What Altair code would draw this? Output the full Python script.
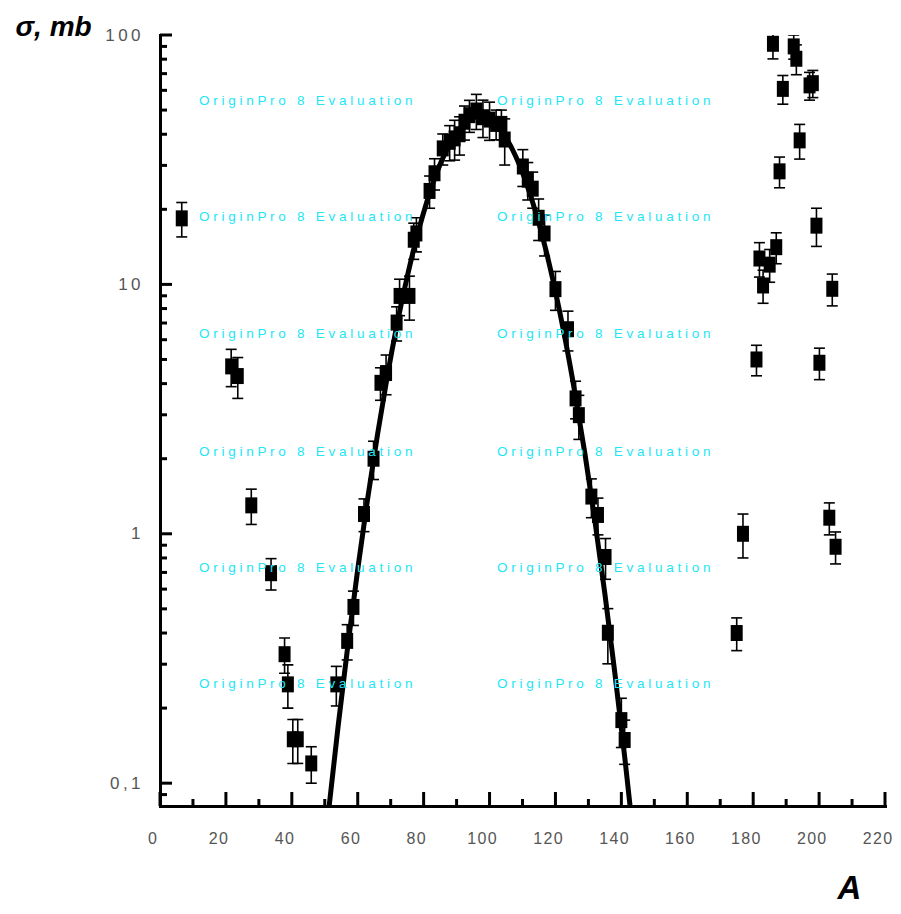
import altair as alt
import pandas as pd

# ---- data ----
# measured cross sections (A, sigma [mb], error [mb])
A_vals = [6.6, 21.6, 23.6, 27.7, 33.7, 37.8, 38.8, 40.3, 41.8, 45.9,
          53.5, 56.8, 58.7, 61.9, 64.8, 66.9, 68.6, 71.8, 72.7, 75.7,
          77.0, 77.8, 81.8, 83.3, 85.8, 87.9, 89.4, 90.9, 92.4, 93.9,
          96.0, 98.0, 100.0, 102.0, 103.6, 104.6, 110.1, 111.6, 113.1, 114.9,
          116.7, 120.0, 123.8, 126.1, 127.1, 130.9, 132.9, 135.2, 135.9, 140.0,
          141.0,
          175.0, 176.9, 181.0, 181.9, 183.0, 185.0, 186.0, 187.0, 188.0, 189.0,
          192.3, 193.1, 194.1, 197.1, 198.1, 199.2, 200.1, 203.1, 204.0, 205.0]
sigma_vals = [18.4, 4.69, 4.29, 1.30, 0.695, 0.329, 0.249, 0.150, 0.150, 0.120,
              0.249, 0.372, 0.509, 1.20, 2.00, 4.03, 4.41, 7.03, 8.99, 8.99,
              15.1, 16.0, 23.7, 27.9, 35.1, 37.3, 38.5, 40.0, 44.9, 47.7,
              49.8, 46.8, 45.8, 44.0, 44.0, 38.1, 29.7, 26.3, 24.2, 18.5,
              16.0, 9.57, 6.61, 3.49, 2.99, 1.41, 1.19, 0.807, 0.401, 0.179,
              0.149,
              0.40, 1.0, 5.0, 12.7, 9.9, 12.0, 92.2, 14.1, 28.4, 60.8,
              90.0, 80.3, 37.8, 62.8, 64.1, 17.2, 4.85, 1.16, 9.6, 0.887]
err_vals = [2.9, 0.8, 0.8, 0.21, 0.1, 0.053, 0.049, 0.03, 0.03, 0.02,
            0.045, 0.06, 0.08, 0.18, 0.35, 0.6, 0.8, 1.1, 1.5, 1.8,
            2.5, 2.5, 3.5, 4.0, 5.0, 6.0, 7.0, 7.0, 7.0, 7.0,
            8.0, 8.0, 8.0, 6.0, 6.0, 8.0, 5.0, 4.5, 4.0, 3.5,
            3.0, 1.7, 1.2, 0.6, 0.6, 0.25, 0.2, 0.15, 0.1, 0.04,
            0.03,
            0.06, 0.2, 0.7, 2.0, 1.5, 1.8, 12.0, 2.0, 4.0, 8.0,
            10.0, 11.0, 6.0, 8.0, 8.0, 3.0, 0.7, 0.17, 1.4, 0.13]

# fitted curve
fit_A = [51, 54, 57, 60, 63, 66, 69, 72, 75, 78, 81, 84, 87, 90, 93, 96,
         99, 102, 105, 108, 111, 114, 117, 120, 123, 126, 129, 132, 135, 138,
         141, 144]
fit_sigma = [0.074, 0.167, 0.356, 0.72, 1.38, 2.50, 4.30, 6.98, 10.7, 15.6,
             21.5, 28.1, 34.6, 40.5, 44.8, 46.9, 46.4, 43.5, 38.7, 32.5,
             25.8, 19.5, 13.9, 9.36, 5.98, 3.61, 2.07, 1.12, 0.574, 0.278,
             0.128, 0.0555]

x_major = [0, 20, 40, 60, 80, 100, 120, 140, 160, 180, 200, 220]
x_minor = [10, 30, 50, 70, 90, 110, 130, 150, 170, 190, 210]
y_major = [0.1, 1, 10, 100]
y_minor = [0.09, 0.2, 0.3, 0.4, 0.5, 0.6, 0.7, 0.8, 0.9,
           2, 3, 4, 5, 6, 7, 8, 9,
           20, 30, 40, 50, 60, 70, 80, 90]

NB = "\u00a0"
watermark = " ".join("OriginPro") + NB * 3 + "8" + NB * 3 + " ".join("Evaluation")
x_title = "A"
y_title = "σ, mb"

# ---- layout ----
W, H = 725, 771
wm_cols = [39, 337]
wm_rows = [66, 182, 299, 417, 533, 649]

xs = alt.Scale(domain=[0, 220], nice=False, zero=False)
ys = alt.Scale(type="log", domain=[0.081, 100], nice=False)

pts = pd.DataFrame({"A": A_vals, "sigma": sigma_vals, "err": err_vals})
pts["lo"] = pts["sigma"] - pts["err"]
pts["hi"] = pts["sigma"] + pts["err"]
fit = pd.DataFrame({"A": fit_A, "sigma": fit_sigma})

y_label_expr = ("join(split(replace(toString(datum.value), '.', ','), ''), '"
                "\u2009')")
x_label_expr = "join(split(toString(datum.value), ''), '\u200a')"
tick_font = "Liberation Sans"

x_axis = alt.Axis(values=x_major, labelExpr=x_label_expr, ticks=False, grid=False,
                  labelFont=tick_font, labelFontSize=16, labelColor="#555",
                  labelPadding=32, labelBaseline="middle", labelOffset=-8,
                  labelFlush=False,
                  title=x_title, titleX=677, titleY=92, titleAlign="left",
                  titleBaseline="alphabetic", titleFont="Liberation Sans",
                  titleFontSize=33, titleFontWeight="bold", titleFontStyle="italic")
y_axis = alt.Axis(values=y_major, labelExpr=y_label_expr, ticks=False, grid=False,
                  labelFont=tick_font, labelFontSize=17, labelColor="#555",
                  labelPadding=20, labelBaseline="middle", labelAlign="right",
                  title=y_title, titleAngle=0, titleX=-145, titleY=0,
                  titleAlign="left", titleBaseline="alphabetic",
                  titleFont="Liberation Sans", titleFontSize=28,
                  titleFontWeight="bold", titleFontStyle="italic")

square = "M-0.75,-1L0.75,-1L0.75,1L-0.75,1Z"


def X(field):
    return alt.X(field, scale=xs, axis=x_axis)


def Y(field):
    return alt.Y(field, scale=ys, axis=y_axis)


points = alt.Chart(pts).mark_point(shape=square, size=256, filled=True,
                                   color="black", opacity=1, clip=True).encode(
    x=X("A:Q"), y=Y("sigma:Q"))
bars = alt.Chart(pts).mark_rule(color="black", strokeWidth=1.6, clip=True).encode(
    x=X("A:Q"), y=Y("lo:Q"), y2="hi:Q")
cap_lo = alt.Chart(pts).mark_tick(orient="horizontal", size=11, thickness=1.6,
                                  color="black", opacity=1, clip=True).encode(
    x=X("A:Q"), y=Y("lo:Q"))
cap_hi = alt.Chart(pts).mark_tick(orient="horizontal", size=11, thickness=1.6,
                                  color="black", opacity=1, clip=True).encode(
    x=X("A:Q"), y=Y("hi:Q"))
curve = alt.Chart(fit).mark_line(color="black", strokeWidth=5, clip=True,
                                 interpolate="monotone").encode(
    x=X("A:Q"), y=Y("sigma:Q"))

# axis ticks pointing into the plot
xt_major = alt.Chart(pd.DataFrame({"A": x_major})).mark_rule(
    color="black", strokeWidth=3).encode(
    x=X("A:Q"), y=alt.value(H), y2=alt.value(H - 14))
xt_minor = alt.Chart(pd.DataFrame({"A": x_minor})).mark_rule(
    color="black", strokeWidth=3).encode(
    x=X("A:Q"), y=alt.value(H), y2=alt.value(H - 7))
yt_major = alt.Chart(pd.DataFrame({"sigma": y_major})).mark_rule(
    color="black", strokeWidth=3).encode(
    y=Y("sigma:Q"), x=alt.value(0), x2=alt.value(12))
yt_minor = alt.Chart(pd.DataFrame({"sigma": y_minor})).mark_rule(
    color="black", strokeWidth=3).encode(
    y=Y("sigma:Q"), x=alt.value(0), x2=alt.value(7))

wm_layers = []
for cx in wm_cols:
    for ry in wm_rows:
        wm_layers.append(
            alt.Chart(pd.DataFrame({"t": [watermark]})).mark_text(
                align="left", baseline="middle", font=tick_font,
                fontSize=13.5, color="#22e6f6").encode(
                x=alt.value(cx), y=alt.value(ry), text="t:N"))

chart = alt.layer(
    points, curve, bars, cap_lo, cap_hi,
    xt_major, xt_minor, yt_major, yt_minor, *wm_layers,
).properties(
    width=W, height=H,
    autosize=alt.AutoSizeParams(type="none"),
    padding={"left": 152, "top": 27, "right": 8, "bottom": 100},
).configure_view(stroke=None).configure_axis(
    domainColor="black", domainWidth=3, domainCap="square",
)

chart.save("out.html", embed_options={"renderer": "svg", "actions": False})
